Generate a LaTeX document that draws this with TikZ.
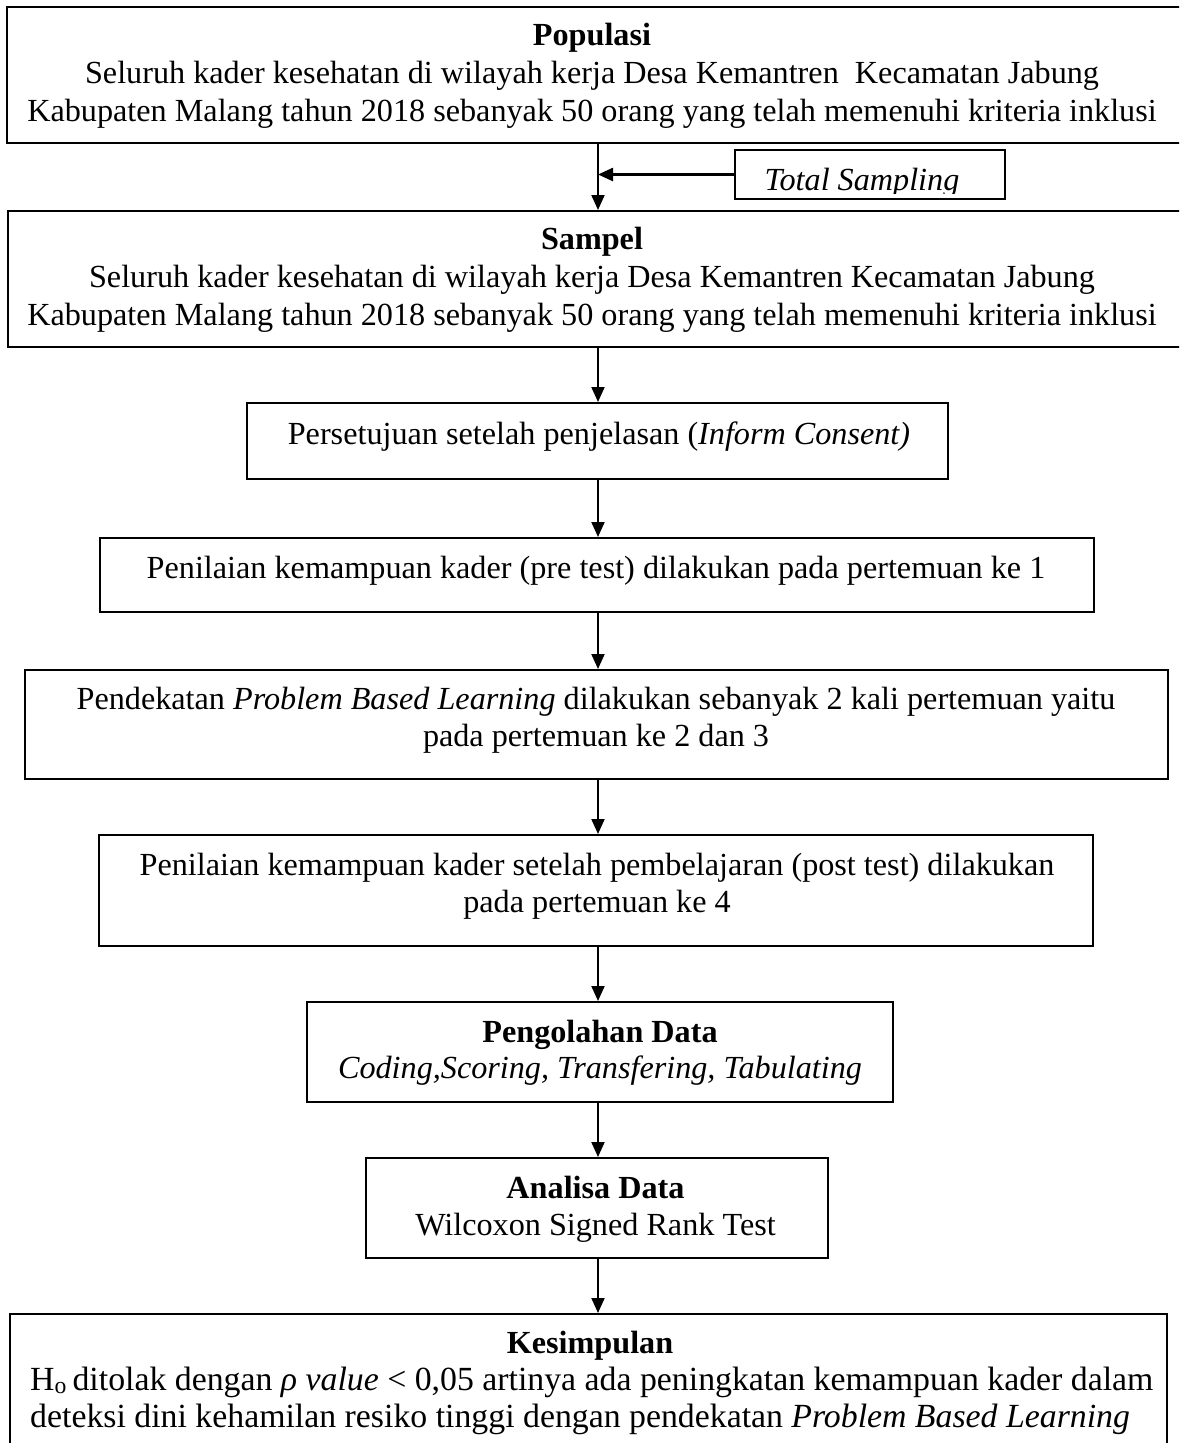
\documentclass[tikz,border=0pt]{standalone}
\usepackage{fontspec}
\setmainfont{Liberation Serif}
\usetikzlibrary{arrows.meta}
\begin{document}
\begin{tikzpicture}[x=1pt,y=-1pt,
  boxnode/.style={draw=black,line width=2pt,inner sep=0pt,fill=none},
  txt/.style={inner sep=0pt,anchor=base,font=\fontsize{32.2pt}{38pt}\selectfont},
  txtb/.style={inner sep=0pt,anchor=base west,font=\fontsize{33.8pt}{38pt}\selectfont},
  arr/.style={line width=2pt,-{Triangle[length=15pt,width=13pt]}}]
\clip (0,0) rectangle (1179,1443);
\fill[white] (0,0) rectangle (1179,1443);
\coordinate (ax) at (598,0);
% boxes
\node[boxnode,minimum width=1176pt,minimum height=136pt] (b1) at (595,75) {};
\node[boxnode,minimum width=270pt,minimum height=49pt] (ts) at (870,174.5) {};
\node[boxnode,minimum width=1175pt,minimum height=136pt] (b2) at (595.5,279) {};
\node[boxnode,minimum width=701pt,minimum height=76pt] (b3) at (597.5,441) {};
\node[boxnode,minimum width=994pt,minimum height=74pt] (b4) at (597,575) {};
\node[boxnode,minimum width=1143pt,minimum height=109pt] (b5) at (596.5,724.5) {};
\node[boxnode,minimum width=994pt,minimum height=111pt] (b6) at (596,890.5) {};
\node[boxnode,minimum width=586pt,minimum height=100pt] (b7) at (600,1052) {};
\node[boxnode,minimum width=462pt,minimum height=100pt] (b8) at (597,1208) {};
\node[boxnode,minimum width=1157pt,minimum height=146pt] (b9) at (588.5,1387) {};
% texts
\node[txt] (t1a) at (592,45) {\textbf{Populasi}};
\node[txt] (t1b) at (592,83) {Seluruh kader kesehatan di wilayah kerja Desa Kemantren\ \ Kecamatan Jabung};
\node[txt] (t1c) at (592,121) {Kabupaten Malang tahun 2018 sebanyak 50 orang yang telah memenuhi kriteria inklusi};
\begin{scope}
\clip (736,151) rectangle (1004,193);
\node[txt] (tts) at (862,190) {\textit{Total Sampling}};
\end{scope}
\node[txt] (t2a) at (592,249) {\textbf{Sampel}};
\node[txt] (t2b) at (592,287) {Seluruh kader kesehatan di wilayah kerja Desa Kemantren Kecamatan Jabung};
\node[txt] (t2c) at (592,325) {Kabupaten Malang tahun 2018 sebanyak 50 orang yang telah memenuhi kriteria inklusi};
\node[txt] (t3) at (599,444) {Persetujuan setelah penjelasan (\textit{Inform Consent)}};
\node[txt] (t4) at (596,578) {Penilaian kemampuan kader (pre test) dilakukan pada pertemuan ke 1};
\node[txt] (t5a) at (596,709) {Pendekatan \textit{Problem Based Learning} dilakukan sebanyak 2 kali pertemuan yaitu};
\node[txt] (t5b) at (596,746) {pada pertemuan ke 2 dan 3};
\node[txt] (t6a) at (597,875) {Penilaian kemampuan kader setelah pembelajaran (post test) dilakukan};
\node[txt] (t6b) at (597,912) {pada pertemuan ke 4};
\node[txt] (t7a) at (600,1042) {\textbf{Pengolahan Data}};
\node[txt] (t7b) at (600,1078) {\textit{Coding,Scoring, Transfering, Tabulating}};
\node[txt] (t8a) at (595.5,1198) {\textbf{Analisa Data}};
\node[txt] (t8b) at (595.5,1235) {Wilcoxon Signed Rank Test};
\node[txt] (t9a) at (590,1353) {\textbf{Kesimpulan}};
\node[txtb] (t9b) at (30,1390) {H\textsubscript{o}\,ditolak dengan \textit{ρ value} < 0,05 artinya ada peningkatan kemampuan kader dalam};
\node[txtb] (t9c) at (30,1427) {deteksi dini kehamilan resiko tinggi dengan pendekatan \textit{Problem Based Learning}};
% connectors
\draw[arr] (b1.south -| ax) -- (b2.north -| ax);
\draw[arr,line width=2.4pt] (ts.west) -- (ts.west -| ax);
\draw[arr] (b2.south -| ax) -- (b3.north -| ax);
\draw[arr] (b3.south -| ax) -- (b4.north -| ax);
\draw[arr] (b4.south -| ax) -- (b5.north -| ax);
\draw[arr] (b5.south -| ax) -- (b6.north -| ax);
\draw[arr] (b6.south -| ax) -- (b7.north -| ax);
\draw[arr] (b7.south -| ax) -- (b8.north -| ax);
\draw[arr] (b8.south -| ax) -- (b9.north -| ax);
\end{tikzpicture}
\end{document}
